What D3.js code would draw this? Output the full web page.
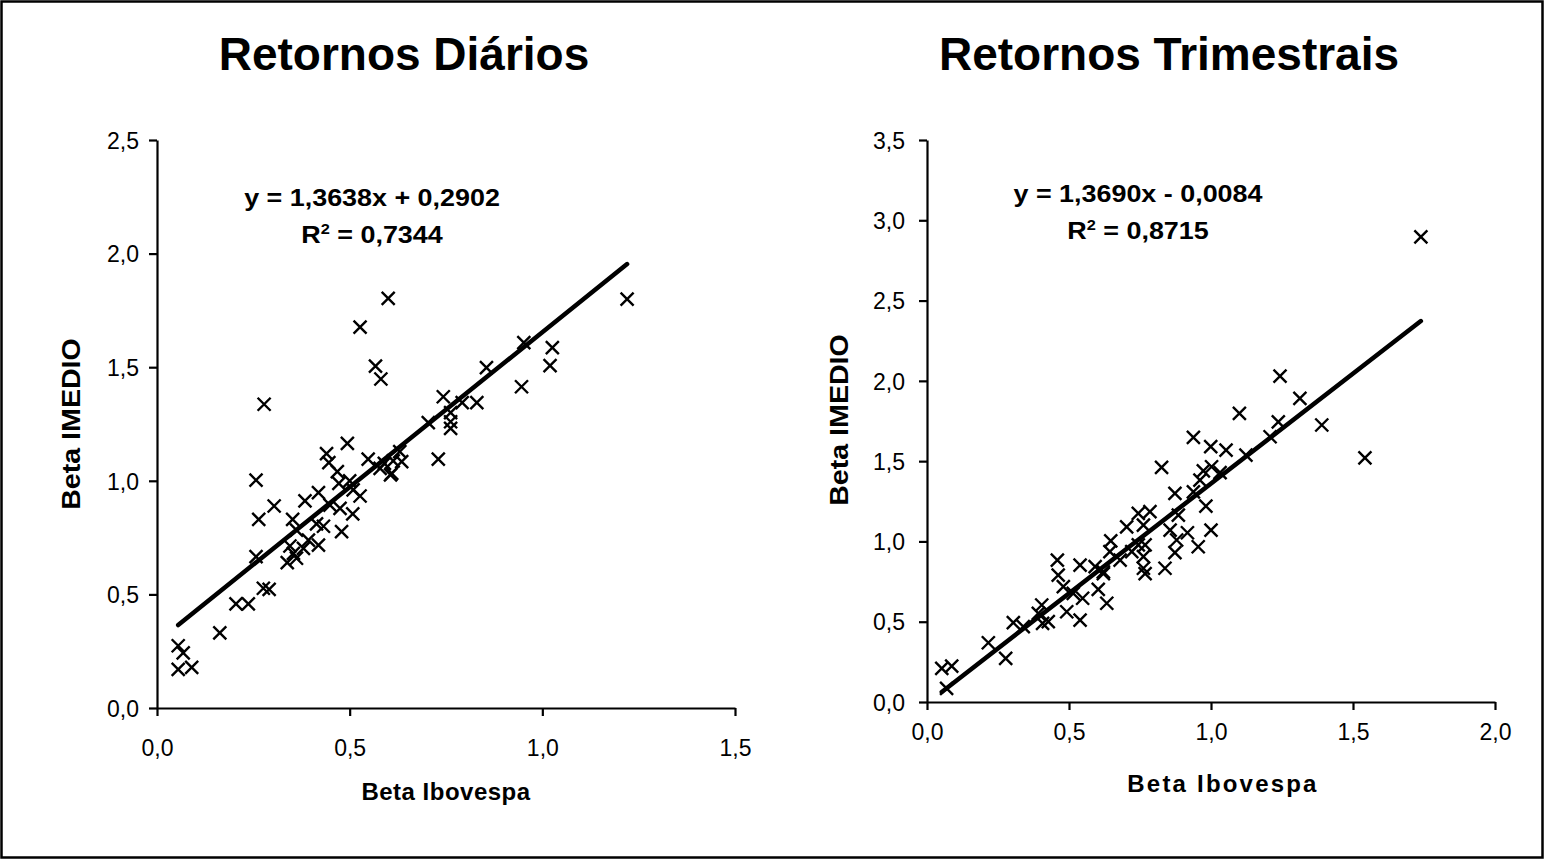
<!DOCTYPE html>
<html>
<head>
<meta charset="utf-8">
<script src="https://cdn.jsdelivr.net/npm/d3@7"></script>
<style>
  body { margin: 0; background: #fff; }
  text { font-family: "Liberation Sans", Arial, sans-serif; }
</style>
</head>
<body>
<div id="chart"></div>
<script>
// pontos: [beta Ibovespa, beta IMEDIO]
var diarios = [
  [0.494,1.165],[0.44,1.12],[0.446,1.08],[0.257,1.003],[0.468,1.04],[0.548,1.095],[0.579,1.055],
  [0.609,1.033],[0.304,0.889],[0.264,0.83],[0.384,0.912],[0.419,0.948],[0.352,0.83],[0.472,0.989],
  [0.50,1.0],[0.509,0.96],[0.527,0.933],[0.449,0.893],[0.475,0.879],[0.508,0.854],[0.414,0.81],
  [0.432,0.80],[0.479,0.776],[0.362,0.783],[0.419,0.717],[0.393,0.739],[0.38,0.703],[0.345,0.713],
  [0.354,0.681],[0.338,0.64],[0.362,0.659],[0.257,0.666],[0.276,0.527],[0.291,0.522],[0.205,0.458],
  [0.237,0.458],[0.163,0.331],[0.055,0.274],[0.068,0.243],[0.055,0.17],[0.09,0.179],[0.60,1.803],
  [0.527,1.676],[0.567,1.505],[0.581,1.448],[0.278,1.337],[1.22,1.80],[1.026,1.586],[1.02,1.507],
  [0.952,1.608],[0.946,1.414],[0.855,1.498],[0.83,1.344],[0.792,1.344],[0.743,1.37],[0.762,1.30],
  [0.762,1.26],[0.762,1.231],[0.704,1.256],[0.73,1.095],[0.63,1.128],[0.635,1.084],[0.613,1.088],
  [0.59,1.077],[0.606,1.026]
];

var trimestrais = [
  [0.052,0.21],[0.087,0.224],[0.069,0.085],[0.216,0.369],[0.277,0.272],[0.304,0.494],[0.339,0.469],
  [0.404,0.604],[0.392,0.552],[0.407,0.49],[0.427,0.50],[0.462,0.79],[0.459,0.884],[0.492,0.562],
  [0.48,0.718],[0.515,0.677],[0.539,0.853],[0.539,0.51],[0.548,0.646],[0.603,0.702],[0.633,0.615],
  [0.621,0.811],[1.313,1.891],[1.237,1.745],[1.10,1.798],[1.208,1.652],[1.243,2.03],[0.938,1.648],
  [0.999,1.59],[1.053,1.569],[1.123,1.538],[0.826,1.461],[0.973,1.44],[1.002,1.465],[1.032,1.428],
  [0.961,1.382],[0.873,1.299],[0.938,1.309],[0.982,1.22],[0.885,1.164],[0.744,1.175],[0.785,1.185],
  [0.703,1.091],[0.762,1.102],[0.856,1.071],[0.917,1.054],[1.0,1.071],[0.879,1.009],[0.955,0.967],
  [0.873,0.93],[0.647,1.004],[0.744,0.978],[0.768,0.978],[0.721,0.936],[0.644,0.936],[0.68,0.884],
  [0.762,0.905],[0.762,0.833],[0.838,0.833],[0.621,0.80],[0.592,0.843],[0.768,0.80],[1.739,2.897],
  [1.39,1.725],[1.542,1.52]
];

var xTicksDiarios = [0, 0.5, 1.0, 1.5];
var yTicksDiarios = [0, 0.5, 1.0, 1.5, 2.0, 2.5];
var xTicksTrim = [0, 0.5, 1.0, 1.5, 2.0];
var yTicksTrim = [0, 0.5, 1.0, 1.5, 2.0, 2.5, 3.0, 3.5];

// coeficientes da linha de tendencia
var regDiarios = { a: 1.3638, b: 0.2902, r2: "0,7344", eq: "y = 1,3638x + 0,2902" };
var regTrim = { a: 1.3690, b: -0.0084, r2: "0,8715", eq: "y = 1,3690x - 0,0084" };

var svg = d3.select("#chart")
  .append("svg")
  .attr("width", 1545)
  .attr("height", 859);

// moldura
svg.append("rect")
  .attr("x", 1.5).attr("y", 1.5)
  .attr("width", 1541).attr("height", 856)
  .attr("fill", "none")
  .attr("stroke", "black")
  .attr("stroke-width", 2.5);

var fmt = function (d) { return d3.format(".1f")(d).replace(".", ","); };

function drawChart(cfg) {
  var x = d3.scaleLinear().domain(cfg.xDomain).range(cfg.xRange);
  var y = d3.scaleLinear().domain(cfg.yDomain).range(cfg.yRange);
  var g = svg.append("g");

  // titulo
  g.append("text")
    .attr("x", cfg.titleX).attr("y", 70)
    .attr("text-anchor", "middle")
    .style("font-size", "46px")
    .style("font-weight", "bold")
    .text(cfg.title);

  // eixos
  var xAxis = g.append("g")
    .attr("transform", "translate(0," + cfg.yRange[0] + ")")
    .call(d3.axisBottom(x).tickValues(cfg.xTicks).tickFormat(fmt).tickSize(8).tickSizeOuter(0));
  var yAxis = g.append("g")
    .attr("transform", "translate(" + cfg.xRange[0] + ",0)")
    .call(d3.axisLeft(y).tickValues(cfg.yTicks).tickFormat(fmt).tickSize(8).tickSizeOuter(0));

  [xAxis, yAxis].forEach(function (ax) {
    ax.selectAll("path, line").attr("stroke", "black").attr("stroke-width", 2.2);
    ax.selectAll("text").style("font-size", "23px").attr("fill", "black");
  });
  xAxis.selectAll("text").attr("y", cfg.xTickBase).attr("dy", 0);
  yAxis.selectAll("text").attr("x", cfg.yTickGap).attr("dy", "0.36em");

  // linha de tendencia
  var xs = cfg.data.map(function (d) { return d[0]; });
  var x0 = d3.min(xs), x1 = d3.max(xs);
  g.append("line")
    .attr("x1", x(x0)).attr("y1", y(cfg.reg.a * x0 + cfg.reg.b))
    .attr("x2", x(x1)).attr("y2", y(cfg.reg.a * x1 + cfg.reg.b))
    .attr("stroke", "black")
    .attr("stroke-width", 4.5)
    .attr("stroke-linecap", "round");

  // marcadores x
  var s = 6.5;
  g.selectAll(".pt")
    .data(cfg.data)
    .enter()
    .append("path")
    .attr("class", "pt")
    .attr("d", function (d) {
      var px = x(d[0]), py = y(d[1]);
      return "M" + (px - s) + "," + (py - s) + "L" + (px + s) + "," + (py + s) +
        "M" + (px - s) + "," + (py + s) + "L" + (px + s) + "," + (py - s);
    })
    .attr("stroke", "black")
    .attr("stroke-width", 2.4)
    .attr("fill", "none");

  // equacao (texto um pouco esticado na horizontal como no original)
  g.append("text")
    .attr("transform", "translate(" + cfg.eqX + "," + cfg.eqY + ") scale(1.17,1)")
    .attr("text-anchor", "middle")
    .style("font-size", "23px")
    .style("font-weight", "bold")
    .text(cfg.reg.eq);
  var r = g.append("text")
    .attr("transform", "translate(" + cfg.eqX + "," + (cfg.eqY + 37) + ") scale(1.17,1)")
    .attr("text-anchor", "middle")
    .style("font-size", "23px")
    .style("font-weight", "bold");
  r.append("tspan").text("R");
  r.append("tspan").attr("dy", -9).style("font-size", "14px").text("2");
  r.append("tspan").attr("dy", 9).text(" = " + cfg.reg.r2);

  // rotulos dos eixos
  g.append("text")
    .attr("x", cfg.xLabelX).attr("y", cfg.xLabelY)
    .attr("text-anchor", "middle")
    .style("font-size", "24px")
    .style("font-weight", "bold")
    .style("letter-spacing", cfg.xLabelSpacing)
    .text("Beta Ibovespa");
  g.append("text")
    .attr("transform", "translate(" + cfg.yLabelX + "," + cfg.yLabelY + ") rotate(-90) scale(1.1,1)")
    .attr("text-anchor", "middle")
    .style("font-size", "26px")
    .style("font-weight", "bold")
    .text("Beta IMEDIO");
}

drawChart({
  title: "Retornos Diários", titleX: 404,
  data: diarios, reg: regDiarios,
  xDomain: [0, 1.5], xRange: [157, 735],
  yDomain: [0, 2.5], yRange: [708, 140],
  xTicks: xTicksDiarios, yTicks: yTicksDiarios,
  xTickBase: 48, yTickGap: -18,
  eqX: 372, eqY: 206,
  xLabelX: 446, xLabelY: 800, xLabelSpacing: "0.5px",
  yLabelX: 80, yLabelY: 424
});

drawChart({
  title: "Retornos Trimestrais", titleX: 1169,
  data: trimestrais, reg: regTrim,
  xDomain: [0, 2.0], xRange: [927, 1495],
  yDomain: [0, 3.5], yRange: [702, 140],
  xTicks: xTicksTrim, yTicks: yTicksTrim,
  xTickBase: 38, yTickGap: -22,
  eqX: 1138, eqY: 202,
  xLabelX: 1223, xLabelY: 792, xLabelSpacing: "2.2px",
  yLabelX: 848, yLabelY: 420
});
</script>
</body>
</html>
